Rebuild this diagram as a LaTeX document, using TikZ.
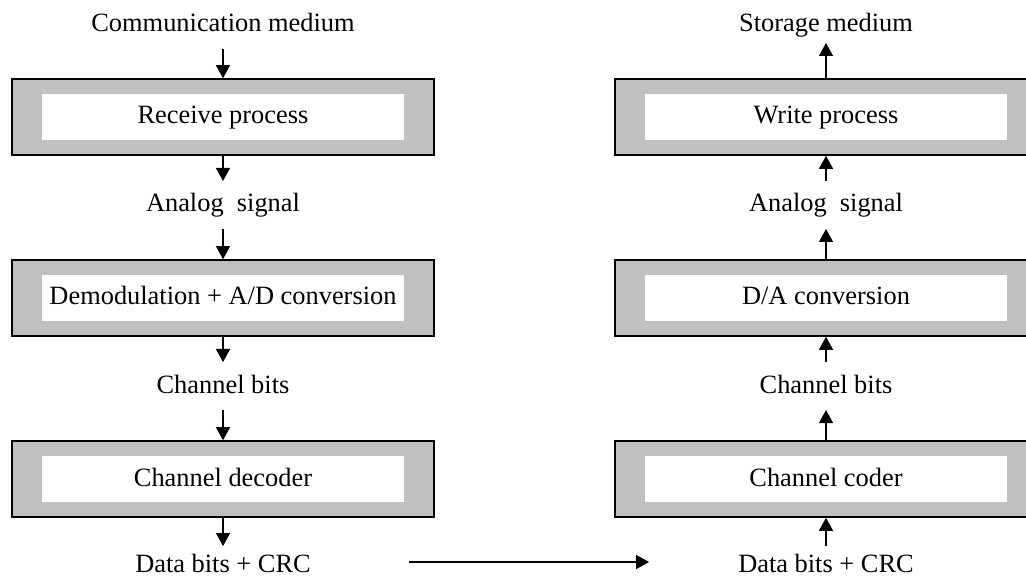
\documentclass[tikz,border=0pt]{standalone}
\usepackage{fontspec}
\setmainfont{Liberation Serif}
\usetikzlibrary{arrows.meta}
\definecolor{framegray}{RGB}{192,192,192}
\begin{document}
\begin{tikzpicture}[x=1pt,y=-1pt,
  every node/.style={font=\fontsize{26.4}{30}\selectfont},
  frame/.style={draw=black, line width=1.6pt, fill=framegray,
    minimum width=422pt, minimum height=76pt, inner sep=0pt},
  panel/.style={fill=white, minimum width=362pt, minimum height=46pt,
    inner sep=0pt, text height=19.8pt, text depth=5.8pt},
  label/.style={anchor=base, inner xsep=0pt, inner ysep=11pt,
    text height=19.8pt, text depth=5.8pt},
  flow/.style={line width=1.4pt, -{Triangle[length=13pt,width=14pt]}}]
\clip (0,0) rectangle (1026,577);

% receiving chain (left column)
\node[label] (la) at (223,32)  {Communication medium};
\node[frame] (fa) at (223,117) {};
\node[panel] (pa) at (fa) {Receive process};
\node[label] (lb) at (223,212) {Analog\ \ signal};
\node[frame] (fb) at (223,298) {};
\node[panel] (pb) at (fb) {Demodulation + A/D conversion};
\node[label] (lc) at (223,393) {Channel bits};
\node[frame] (fc) at (223,479) {};
\node[panel] (pc) at (fc) {Channel decoder};
\node[label, inner ysep=6pt] (ld) at (223,572) {Data bits + CRC};

\draw[flow] (la) -- (fa);
\draw[flow] (fa) -- (lb);
\draw[flow] (lb) -- (fb);
\draw[flow] (fb) -- (lc);
\draw[flow] (lc) -- (fc);
\draw[flow] (fc) -- (ld);

% writing chain (right column)
\node[label, inner ysep=5pt] (ra) at (826,32)  {Storage medium};
\node[frame] (ga) at (826,117) {};
\node[panel] (qa) at (ga) {Write process};
\node[label] (rb) at (826,212) {Analog\ \ signal};
\node[frame] (gb) at (826,298) {};
\node[panel] (qb) at (gb) {D/A conversion};
\node[label] (rc) at (826,393) {Channel bits};
\node[frame] (gc) at (826,479) {};
\node[panel] (qc) at (gc) {Channel coder};
\node[label, inner ysep=6pt] (rd) at (826,572) {Data bits + CRC};

\draw[flow] (ga) -- (ra);
\draw[flow] (rb) -- (ga);
\draw[flow] (gb) -- (rb);
\draw[flow] (rc) -- (gb);
\draw[flow] (gc) -- (rc);
\draw[flow] (rd) -- (gc);

% hand-over between the two chains
\draw[flow, shorten <=98pt, shorten >=89pt]
  ([yshift=3pt]ld.east) -- ([yshift=3pt]rd.west);
\end{tikzpicture}
\end{document}
